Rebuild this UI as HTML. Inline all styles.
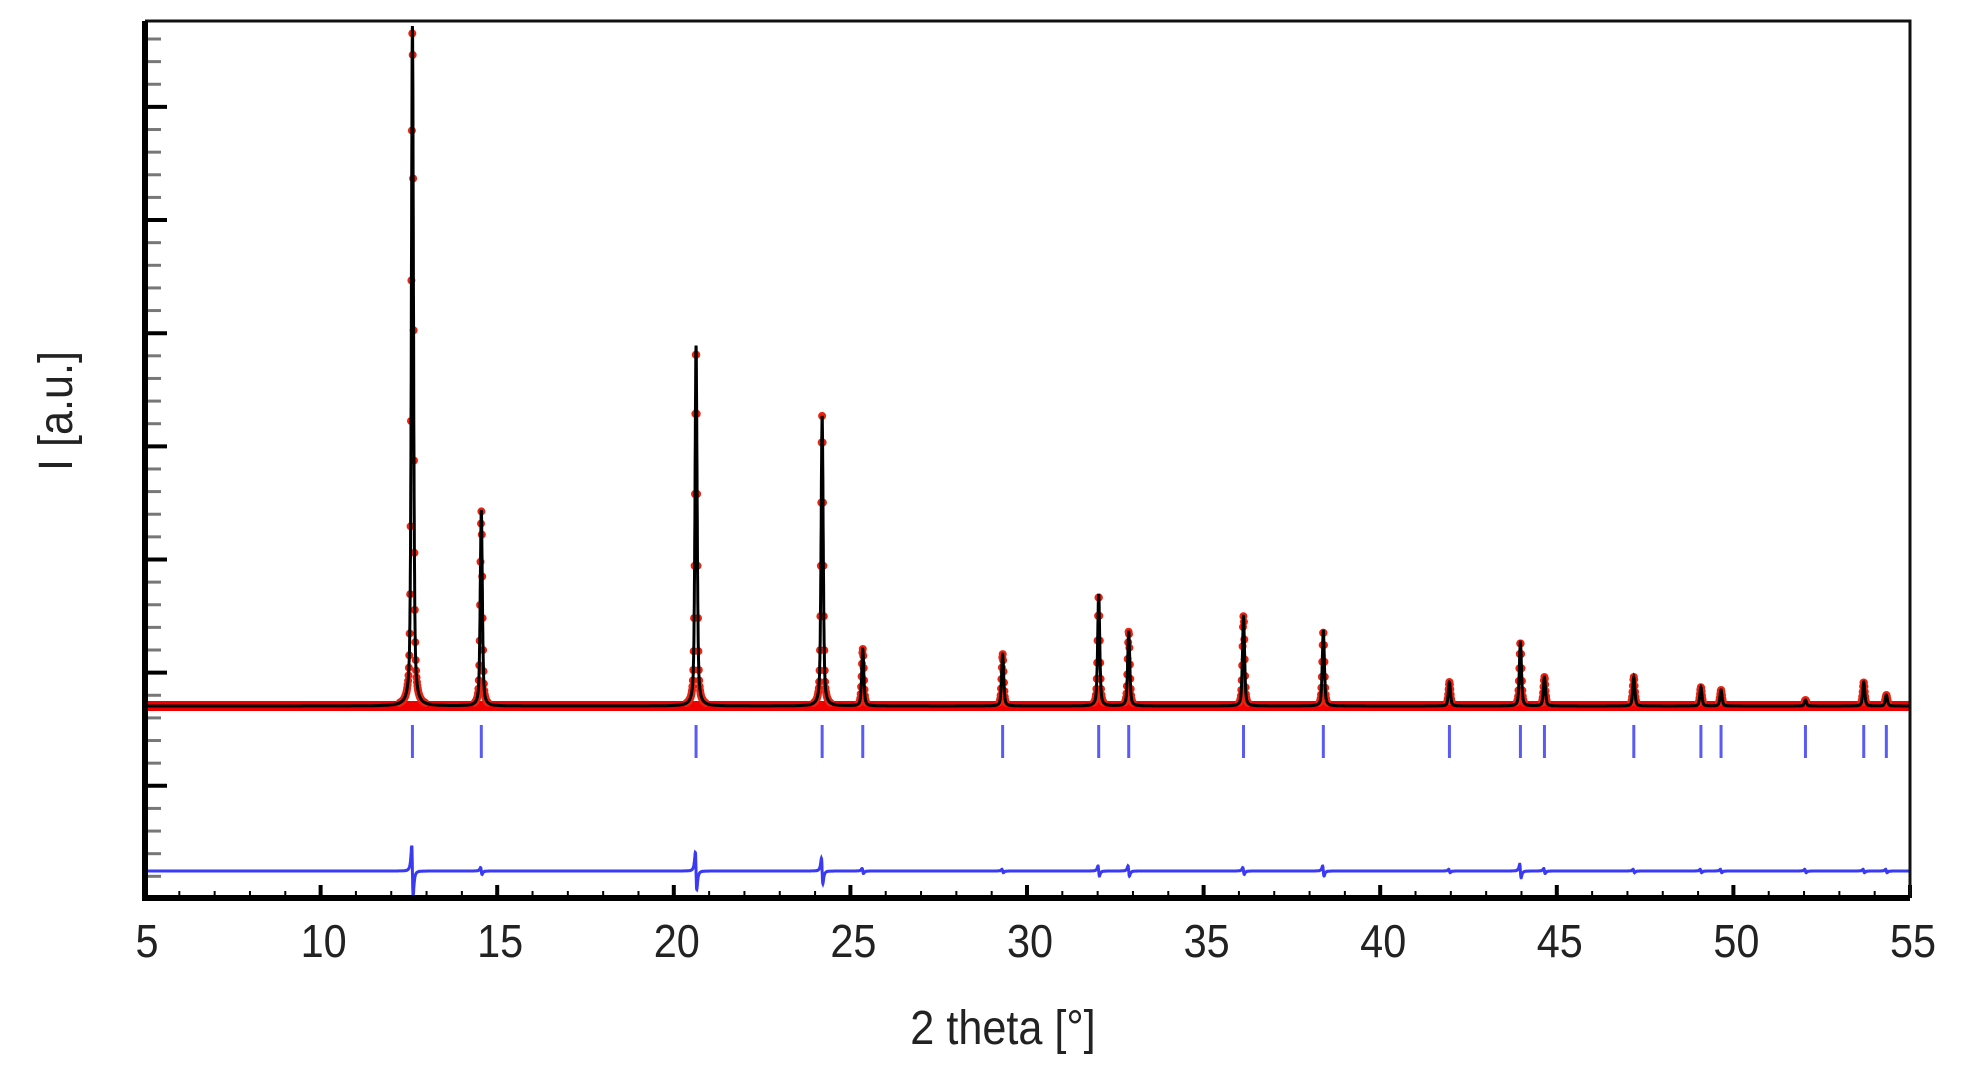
<!DOCTYPE html>
<html><head><meta charset="utf-8"><style>
html,body{margin:0;padding:0;background:#fff;}
svg{display:block;font-family:"Liberation Sans",sans-serif;}
</style></head><body>
<svg id="chart" width="1977" height="1075" viewBox="0 0 1977 1075" xmlns="http://www.w3.org/2000/svg">
<g id="plot"></g>
<text x="1003" y="1044" font-size="48" text-anchor="middle" fill="#222" transform="translate(1003,0) scale(0.9,1) translate(-1003,0)">2 theta [°]</text>
<text transform="translate(72,411) rotate(-90) scale(0.9,1)" font-size="48" text-anchor="middle" fill="#222">I [a.u.]</text>
</svg>
<script>
const peakPos = [12.6,14.55,20.63,24.2,25.35,29.31,32.03,32.88,36.13,38.39,41.96,43.97,44.65,47.18,49.08,49.65,52.04,53.69,54.33];
const peakInt = [680,195,360,290,57,52,111,75,90,75,24,64,29,29,19,16,6,24,11];
const diffAmp = [30,4,22,15,3,2,6,6,4,6,2,8,3,2,2,2,2,2,2];
const xTicks = [5,10,15,20,25,30,35,40,45,50,55];

const X0=144, PX=35.32, BASE=706, DIFF0=871, LEFT=145, RIGHT=1910, TOP=21, BOTTOM=898;
const xs = v => X0+(v-5)*PX;
const ys = v => BASE - v;
const g = document.getElementById('plot');
const NS='http://www.w3.org/2000/svg';
function mk(t,a){const e=document.createElementNS(NS,t);for(const k in a)e.setAttribute(k,a[k]);g.appendChild(e);return e;}
function prof(t){let s=0;for(let i=0;i<peakPos.length;i++){const d=(t-peakPos[i])/0.035;s+=peakInt[i]*(0.5/(1+d*d)+0.5*Math.exp(-0.693*d*d));}return s;}
function dprof(t){let s=0;for(let i=0;i<peakPos.length;i++){const d=(t-peakPos[i])/0.035;s+=diffAmp[i]*(-2*d)/((1+d*d)*(1+d*d))*1.3;}return s;}

let e=mk('line',{x1:LEFT,x2:RIGHT,y1:BASE,y2:BASE,stroke:'#e00',"stroke-width":10});


const obs=mk('g',{fill:'#e21'});


for(let t=5;t<=55;t+=0.012){const v=prof(t);if(v<3)continue;const c=document.createElementNS(NS,'circle');c.setAttribute('cx',xs(t).toFixed(1));c.setAttribute('cy',ys(v).toFixed(1));c.setAttribute('r',4);obs.appendChild(c);}
let d='';for(let t=5;t<=55.001;t+=0.004){d+=(d?'L':'M')+xs(t).toFixed(1)+' '+ys(prof(t)).toFixed(1);}
e=mk('path',{d:d,fill:'none',stroke:'#000',"stroke-width":3});


for(let i=0;i<peakPos.length;i++){e=mk('line',{x1:xs(peakPos[i]),x2:xs(peakPos[i]),y1:725,y2:758,stroke:'#5a5af5',"stroke-width":3});

}
d='';for(let t=5;t<=55.001;t+=0.004){d+=(d?'L':'M')+xs(t).toFixed(1)+' '+(DIFF0-dprof(t)).toFixed(1);}
e=mk('path',{d:d,fill:'none',stroke:'#3a3af5',"stroke-width":3});


for(let k=0;k<40;k++){const y=39+k*22.63;if(y>BOTTOM-8)break;const maj=(k%5==3);
e=mk('line',{x1:LEFT,x2:LEFT+(maj?22:16),y1:y,y2:y,stroke:maj?'#000':'#777',"stroke-width":maj?4:3});

}
for(let v=5;v<=55;v++){const maj=v%5==0;
e=mk('line',{x1:xs(v),x2:xs(v),y1:BOTTOM,y2:BOTTOM-(maj?13:7),stroke:'#000',"stroke-width":maj?4:2});

}
xTicks.forEach(v=>{const cx=xs(v)+3;const tx=mk('text',{x:cx,y:957,"font-size":46,"text-anchor":"middle",fill:'#222',transform:`translate(${cx},0) scale(0.9,1) translate(${-cx},0)`});tx.textContent=v;

});
e=mk('path',{d:`M${LEFT} ${TOP}H${RIGHT}V${BOTTOM}`,fill:'none',stroke:'#111',"stroke-width":3});


e=mk('path',{d:`M${LEFT} ${TOP}V${BOTTOM}H${RIGHT}`,fill:'none',stroke:'#000',"stroke-width":6});


</script>
</body></html>
